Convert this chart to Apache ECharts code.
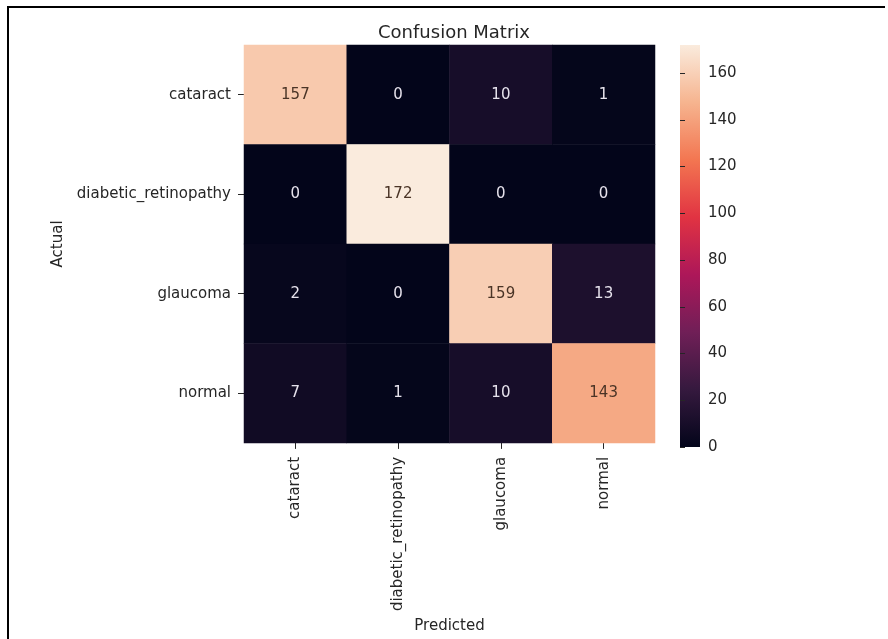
<!DOCTYPE html>
<html>
<head>
<meta charset="utf-8">
<title>Confusion Matrix</title>
<script src="https://cdn.jsdelivr.net/npm/echarts@6/dist/echarts.min.js"></script>
<style>
  html, body { margin: 0; padding: 0; background: #ffffff; overflow: hidden; }
  #chart { width: 888px; height: 639px; }
</style>
</head>
<body>
<div id="chart"></div>
<script>
// Class names shared by both axes
const classes = ['cataract', 'diabetic_retinopathy', 'glaucoma', 'normal'];

// Rows = actual class, columns = predicted class
const rowCataract = [157, 0, 10, 1];
const rowDiabetic = [0, 172, 0, 0];
const rowGlaucoma = [2, 0, 159, 13];
const rowNormal = [7, 1, 10, 143];
const matrixRows = [rowCataract, rowDiabetic, rowGlaucoma, rowNormal];

// Colour bar ticks
const colorbarTicks = [0, 20, 40, 60, 80, 100, 120, 140, 160];

// "rocket" colour ramp, evenly spaced stops
const rocket = ['#03051a', '#35193e', '#701f57', '#ad1759', '#e13342', '#f37651', '#f6b48f', '#faebdd'];

const FONT = 'DejaVu Sans';
const TEXT = '#262626';

let vmax = 0;
matrixRows.forEach(r => r.forEach(v => { if (v > vmax) vmax = v; }));

const cells = [];
matrixRows.forEach((row, i) => {
  row.forEach((v, j) => {
    cells.push({
      value: [j, i, v],
      label: { color: v / vmax > 0.5 ? '#4a3426' : '#e6e2ec' }
    });
  });
});

const gradientStops = rocket.map((c, k) => ({ offset: k / (rocket.length - 1), color: c }));

const chart = echarts.init(document.getElementById('chart'), null, { renderer: 'canvas', width: 888, height: 639 });

chart.setOption({
  backgroundColor: '#ffffff',
  animation: false,
  textStyle: { fontFamily: FONT },
  title: {
    text: 'Confusion Matrix',
    left: 449,
    textAlign: 'center',
    top: 19,
    textStyle: { fontFamily: FONT, fontSize: 18, fontWeight: 'normal', color: TEXT }
  },
  grid: [
    { left: 244, top: 45, width: 411, height: 402 },
    {
      left: 680, top: 45, width: 20, height: 402,
      show: true, borderWidth: 0,
      backgroundColor: new echarts.graphic.LinearGradient(0, 1, 0, 0, gradientStops)
    }
  ],
  xAxis: [
    {
      type: 'category', data: classes, gridIndex: 0,
      axisLine: { show: false },
      axisTick: { show: true, alignWithLabel: true, length: 6, lineStyle: { color: TEXT } },
      axisLabel: { rotate: 90, margin: 14, fontSize: 15, color: TEXT, fontFamily: FONT },
      splitLine: { show: false },
      name: 'Predicted', nameLocation: 'middle', nameGap: 165,
      nameTextStyle: { fontSize: 15, color: TEXT, fontFamily: FONT }
    },
    { type: 'value', gridIndex: 1, show: false, min: 0, max: 1 }
  ],
  yAxis: [
    {
      type: 'category', data: classes, gridIndex: 0, inverse: true,
      axisLine: { show: false },
      axisTick: { show: true, alignWithLabel: true, length: 6, lineStyle: { color: TEXT } },
      axisLabel: { margin: 13, fontSize: 15, color: TEXT, fontFamily: FONT },
      splitLine: { show: false },
      name: 'Actual', nameLocation: 'middle', nameGap: 178,
      nameTextStyle: { fontSize: 15, color: TEXT, fontFamily: FONT }
    },
    {
      type: 'value', gridIndex: 1, position: 'right',
      min: 0, max: vmax, interval: 20,
      axisLine: { show: false },
      axisTick: { show: true, length: 5, lineStyle: { color: TEXT } },
      axisLabel: {
        margin: 8, fontSize: 15, color: TEXT, fontFamily: FONT,
        showMaxLabel: false,
        formatter: v => (colorbarTicks.indexOf(v) >= 0 ? String(v) : '')
      },
      splitLine: { show: false }
    }
  ],
  visualMap: {
    show: false, type: 'continuous', dimension: 2,
    min: 0, max: vmax, seriesIndex: 0,
    inRange: { color: rocket }
  },
  series: [
    {
      type: 'heatmap', xAxisIndex: 0, yAxisIndex: 0,
      data: cells,
      label: { show: true, fontSize: 15, fontFamily: FONT, formatter: p => String(p.value[2]) },
      itemStyle: { borderWidth: 0 },
      emphasis: { disabled: true }
    }
  ],
  graphic: [
    // frame: top and left edges only
    { type: 'rect', shape: { x: 7, y: 6, width: 878, height: 2 }, style: { fill: '#000000' }, silent: true },
    { type: 'rect', shape: { x: 7, y: 6, width: 2, height: 633 }, style: { fill: '#000000' }, silent: true }
  ]
});
</script>
</body>
</html>
